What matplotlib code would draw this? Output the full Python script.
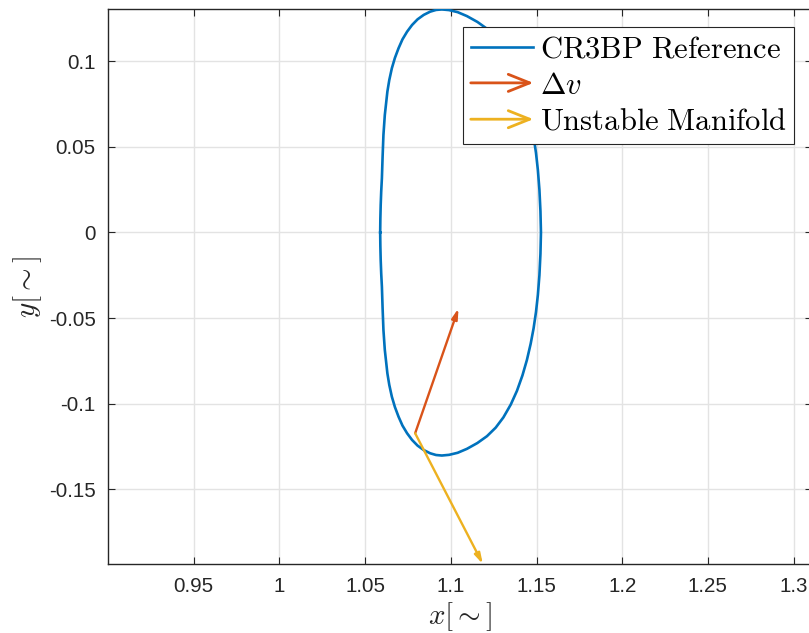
import matplotlib
matplotlib.use("Agg")
import matplotlib.pyplot as plt
from matplotlib.patches import FancyArrowPatch
from matplotlib.legend_handler import HandlerBase
from matplotlib.lines import Line2D

# ---- data ----
# lower half of the orbit, from the left crossing of y=0 to the right crossing
lower_x = [1.0588, 1.0589, 1.0591, 1.0594, 1.0598, 1.0602, 1.0607, 1.0615, 1.0630, 1.0641,
           1.0656, 1.0674, 1.0695, 1.0718, 1.0745, 1.0774, 1.0806, 1.0842, 1.0880, 1.0914,
           1.0948, 1.0990, 1.1040, 1.1094, 1.1155, 1.1211, 1.1262, 1.1307, 1.1350, 1.1386,
           1.1418, 1.1444, 1.1466, 1.1483, 1.1497, 1.1508, 1.1517, 1.1523, 1.1526]
lower_y = [0.0, -0.0080, -0.0161, -0.0240, -0.0317, -0.0440, -0.0570, -0.0686, -0.0823, -0.0890,
           -0.0959, -0.1020, -0.1076, -0.1128, -0.1173, -0.1212, -0.1245, -0.1271, -0.1290, -0.1300,
           -0.1303, -0.1299, -0.1287, -0.1264, -0.1230, -0.1190, -0.1140, -0.1080, -0.1005, -0.0925,
           -0.0835, -0.0745, -0.0650, -0.0560, -0.0465, -0.0365, -0.0250, -0.0125, 0.0]
# upper half, from the right crossing back to the left crossing
upper_x = [1.1526, 1.1523, 1.1517, 1.1508, 1.1497, 1.1483, 1.1466, 1.1444, 1.1418, 1.1386,
           1.1350, 1.1307, 1.1262, 1.1211, 1.1155, 1.1094, 1.1040, 1.0990, 1.0948, 1.0914,
           1.0880, 1.0842, 1.0806, 1.0774, 1.0745, 1.0718, 1.0695, 1.0674, 1.0656, 1.0641,
           1.0630, 1.0615, 1.0607, 1.0602, 1.0598, 1.0594, 1.0591, 1.0589, 1.0588]
upper_y = [0.0, 0.0125, 0.0250, 0.0365, 0.0465, 0.0560, 0.0650, 0.0745, 0.0835, 0.0925,
           0.1005, 0.1080, 0.1140, 0.1190, 0.1230, 0.1264, 0.1287, 0.1299, 0.1303, 0.1300,
           0.1290, 0.1271, 0.1245, 0.1212, 0.1173, 0.1128, 0.1076, 0.1020, 0.0959, 0.0890,
           0.0823, 0.0686, 0.0570, 0.0440, 0.0317, 0.0240, 0.0161, 0.0080, 0.0]

dv_start = (1.0792, -0.1173)
dv_end = (1.1045, -0.0443)
man_start = (1.0792, -0.1173)
man_end = (1.1187, -0.1937)

labels = ["CR3BP Reference", r"\Delta v", "Unstable Manifold"]
xticks = [0.95, 1.0, 1.05, 1.1, 1.15, 1.2, 1.25, 1.3]
xticklabels = ["0.95", "1", "1.05", "1.1", "1.15", "1.2", "1.25", "1.3"]
yticks = [-0.15, -0.1, -0.05, 0.0, 0.05, 0.1]
yticklabels = ["-0.15", "-0.1", "-0.05", "0", "0.05", "0.1"]

c_blue = "#0072BD"
c_orange = "#D95319"
c_yellow = "#EDB120"

plt.rcParams['mathtext.fontset'] = 'cm'
plt.rcParams['axes.unicode_minus'] = False

W, H = 809, 633
fig = plt.figure(figsize=(W / 100, H / 100), dpi=100)
ax = fig.add_axes([108 / W, (H - 564.4) / H, (812 - 108) / W, (564.4 - 8.9) / H])

ax.set_xlim(0.9, 0.9 + 704 / 1714)
ax.set_ylim(-0.1939, 0.1306)

ax.grid(True, color="#e3e3e3", linewidth=1.0, zorder=0)
ax.set_axisbelow(True)

orbit_line, = ax.plot(lower_x + upper_x[1:], lower_y + upper_y[1:], color=c_blue, lw=1.9,
                      zorder=3, solid_joinstyle='round')

arr_style = '-|>,head_length=0.6,head_width=0.17'
ax.annotate("", xy=dv_end, xytext=dv_start, annotation_clip=False,
            arrowprops=dict(arrowstyle=arr_style, color=c_orange, lw=1.7,
                            shrinkA=0, shrinkB=0, mutation_scale=10), zorder=4)
ax.annotate("", xy=man_end, xytext=man_start, annotation_clip=False,
            arrowprops=dict(arrowstyle=arr_style, color=c_yellow, lw=1.7,
                            shrinkA=0, shrinkB=0, mutation_scale=10), zorder=4)

ax.set_xticks(xticks)
ax.set_xticklabels(xticklabels)
ax.set_yticks(yticks)
ax.set_yticklabels(yticklabels)
ax.tick_params(direction='in', length=5, width=0.8, top=True, right=True,
               colors="#262626", labelsize=14.8, pad=9)
for lab in ax.get_xticklabels() + ax.get_yticklabels():
    lab.set_fontfamily("Liberation Sans")
for sp in ax.spines.values():
    sp.set_color("#262626")
    sp.set_linewidth(1.0)

ax.set_xlabel(r"$x[\sim]$", fontsize=21, labelpad=3, color="#262626")
ax.set_ylabel(r"$y[\sim]$", fontsize=21, labelpad=3, color="#262626")


class HandlerArrow(HandlerBase):
    def create_artists(self, legend, orig_handle, xdescent, ydescent, width, height,
                       fontsize, trans):
        y = height / 2 - ydescent
        p = FancyArrowPatch((-xdescent, y), (width - xdescent, y),
                            arrowstyle='->,head_length=0.7,head_width=0.28',
                            mutation_scale=fontsize, color=orig_handle.get_color(),
                            lw=2.0, shrinkA=0, shrinkB=0)
        p.set_transform(trans)
        return [p]


dv_proxy = Line2D([], [], color=c_orange)
man_proxy = Line2D([], [], color=c_yellow)

leg = ax.legend([orbit_line, dv_proxy, man_proxy],
                [r"$\mathrm{CR3BP\ Reference}$", r"$" + labels[1] + r"$", r"$\mathrm{Unstable\ Manifold}$"],
                handler_map={dv_proxy: HandlerArrow(), man_proxy: HandlerArrow()},
                loc='upper right', bbox_to_anchor=(794 / W, 1 - 26.6 / H),
                bbox_transform=fig.transFigure, borderaxespad=0,
                fontsize=22, frameon=True, fancybox=False, framealpha=1,
                edgecolor="#262626", handlelength=2.05, handletextpad=0.2,
                borderpad=0.25, labelspacing=0.24)
leg.get_frame().set_linewidth(0.8)
leg.set_zorder(10)

fig.savefig("out.png", dpi=100)
